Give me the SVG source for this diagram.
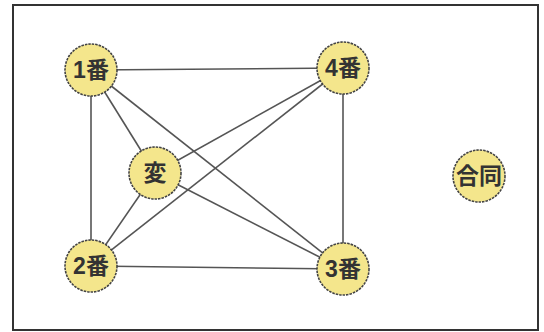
<svg xmlns="http://www.w3.org/2000/svg" width="544" height="332" viewBox="0 0 544 332">
<style>
.frame{fill:#fff;stroke:#333;stroke-width:2}
.edge{stroke:#555;stroke-width:1.6;fill:none}
.node circle{fill:#f4e68c;stroke:#444;stroke-width:1.6;stroke-dasharray:2.5 1}
.node text{font-family:"Liberation Sans","Noto Sans CJK JP",sans-serif;font-size:23px;font-weight:bold;fill:#333;text-anchor:middle;dominant-baseline:central}
</style>
<rect class="frame" x="13" y="5" width="525" height="325"/>
<g id="connectors">
<line class="edge" x1="91" y1="70" x2="343" y2="68"/>
<line class="edge" x1="91" y1="266" x2="343" y2="269"/>
<line class="edge" x1="91" y1="70" x2="91" y2="266"/>
<line class="edge" x1="343" y1="68" x2="343" y2="269"/>
<line class="edge" x1="91" y1="70" x2="343" y2="269"/>
<line class="edge" x1="91" y1="266" x2="343" y2="68"/>
<line class="edge" x1="91" y1="70" x2="155" y2="173"/>
<line class="edge" x1="155" y1="173" x2="343" y2="68"/>
<line class="edge" x1="91" y1="266" x2="155" y2="173"/>
<line class="edge" x1="155" y1="173" x2="343" y2="269"/>
</g>
<g id="n1" class="node"><circle cx="91" cy="70" r="26"/><text x="91" y="70">1番</text></g>
<g id="n4" class="node"><circle cx="343" cy="68" r="26"/><text x="343" y="68">4番</text></g>
<g id="n2" class="node"><circle cx="91" cy="266" r="26"/><text x="91" y="266">2番</text></g>
<g id="n3" class="node"><circle cx="343" cy="269" r="26"/><text x="343" y="269">3番</text></g>
<g id="nh" class="node"><circle cx="155" cy="173" r="26"/><text x="155" y="173">変</text></g>
<g id="ng" class="node"><circle cx="479" cy="176" r="26"/><text x="479" y="176">合同</text></g>
</svg>
